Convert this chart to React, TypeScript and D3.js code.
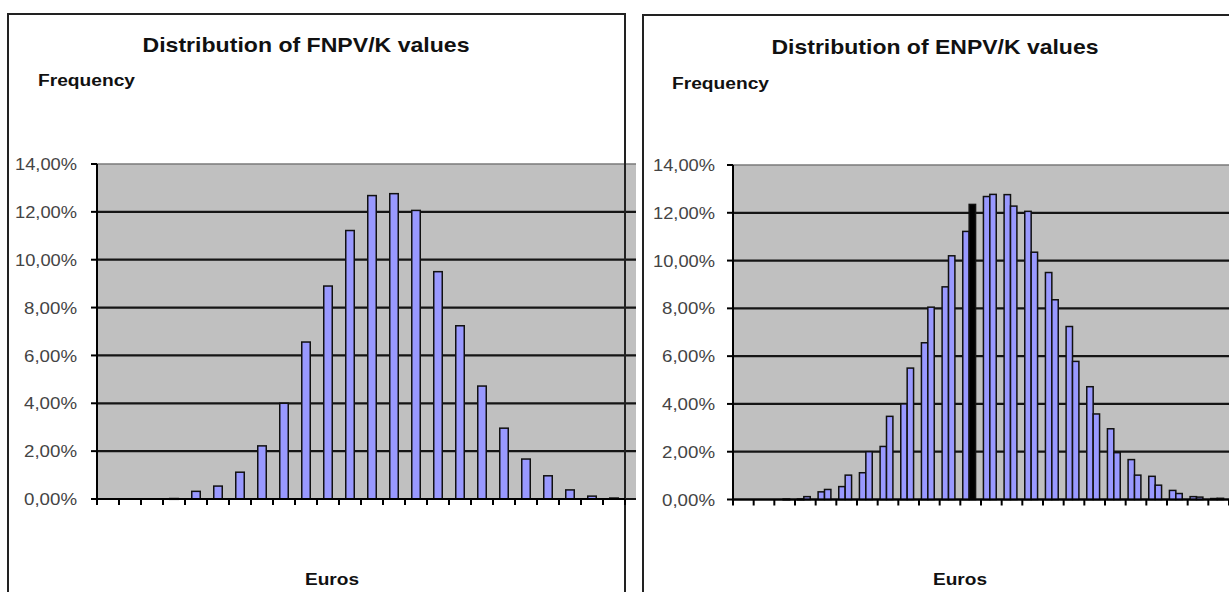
import React from "react";
import * as d3 from "d3";

// ---- data ----
const bins = [1, 2, 3, 4, 5, 6, 7, 8, 9, 10, 11, 12, 13, 14, 15, 16, 17, 18, 19, 20, 21, 22, 23, 24];
const fnpvFreq = [0, 0, 0, 0.02, 0.32, 0.54, 1.12, 2.22, 4.0, 6.56, 8.9, 11.22, 12.68, 12.76, 12.06, 9.5, 7.24, 4.72, 2.96, 1.67, 0.97, 0.38, 0.12, 0.04];
const enpvFreq = [0, 0, 0.02, 0.12, 0.42, 1.02, 2.0, 3.48, 5.5, 8.05, 10.2, 12.35, 12.77, 12.28, 10.35, 8.36, 5.78, 3.58, 1.96, 1.02, 0.6, 0.25, 0.1, 0.05];
const highlightedBin = 12; // bin drawn in black in the ENPV series
const yTicks = [0, 2, 4, 6, 8, 10, 12, 14];
const leftTitle = "Distribution of FNPV/K values";
const rightTitle = "Distribution of ENPV/K values";
const yTitle = "Frequency";
const xTitle = "Euros";

const FONT = "'Liberation Sans', Arial, sans-serif";
const BAR_FILL = "#9999ff";
const fmt = (v: number) => v.toFixed(2).replace(".", ",") + "%";

type Series = { values: number[]; highlight?: number };

type PanelProps = {
  frameX0: number;
  frameX1: number;
  frameY: number;
  plotX0: number;
  plotX1: number;
  grayX1: number;
  yBottom: number;
  yTop: number;
  title: string;
  titleX: number;
  titleY: number;
  freqX: number;
  freqY: number;
  eurosX: number;
  eurosY: number;
  series: Series[];
  barWidth: number;
  pairShift: number;
  labelGap: number;
};

function Panel(p: PanelProps) {
  const x = d3.scaleBand<number>().domain(bins).range([p.plotX0, p.plotX1]).padding(0);
  const y = d3.scaleLinear().domain([0, 14]).range([p.yBottom, p.yTop]);
  const sub = d3
    .scaleBand<number>()
    .domain(p.series.map((_, i) => i))
    .range([0, p.barWidth * p.series.length])
    .padding(0);
  const groupW = p.barWidth * p.series.length;
  const step = x.step();
  const boundaries = d3.range(bins.length + 1).map((i) => p.plotX0 + i * step);

  return (
    <g>
      {/* frame */}
      <rect x={p.frameX0} y={p.frameY} width={p.frameX1 - p.frameX0} height={700} fill="white" stroke="#222" strokeWidth={2} />
      {/* plot area */}
      <rect x={p.plotX0} y={y(14)} width={p.grayX1 - p.plotX0} height={y(0) - y(14)} fill="#c0c0c0" />
      {yTicks.map((t) => (
        <line key={"g" + t} x1={p.plotX0} x2={p.grayX1} y1={y(t)} y2={y(t)} stroke={t === 14 ? "#7a7a7a" : "#151515"} strokeWidth={t === 14 ? 1.5 : 2.2} />
      ))}
      {/* bars */}
      {p.series.map((s, si) =>
        s.values.map((v, i) => {
          const cx = (x(bins[i]) as number) + step / 2;
          const bx = cx - groupW / 2 + p.pairShift + (sub(si) as number);
          const h = y(0) - y(v);
          if (v <= 0) return null;
          const isHi = s.highlight !== undefined && bins[i] === s.highlight;
          return (
            <rect
              key={si + "-" + i}
              x={bx}
              y={y(v)}
              width={sub.bandwidth()}
              height={Math.max(h, 0.8)}
              fill={isHi ? "#000" : BAR_FILL}
              stroke="#111"
              strokeWidth={1.5}
            />
          );
        })
      )}
      {/* frame right border redrawn over gray */}
      <line x1={p.frameX1} x2={p.frameX1} y1={p.frameY} y2={700} stroke="#222" strokeWidth={2} />
      {/* axes */}
      <line x1={p.plotX0} x2={p.plotX0} y1={y(14)} y2={y(0)} stroke="#000" strokeWidth={2} />
      <line x1={p.plotX0} x2={p.plotX1} y1={y(0)} y2={y(0)} stroke="#000" strokeWidth={2} />
      {yTicks.map((t) => (
        <g key={"yt" + t}>
          <line x1={p.plotX0 - 6} x2={p.plotX0} y1={y(t)} y2={y(t)} stroke="#000" strokeWidth={2} />
          <text x={p.plotX0 - p.labelGap} y={y(t)} dy="0.36em" textAnchor="end" fontFamily={FONT} fontSize={17} fill="#444" textLength={t >= 10 ? 62 : 53} lengthAdjust="spacingAndGlyphs">
            {fmt(t)}
          </text>
        </g>
      ))}
      {boundaries.map((bx, i) => (
        <line key={"xt" + i} x1={bx} x2={bx} y1={y(0)} y2={y(0) + 6} stroke="#000" strokeWidth={2} />
      ))}
      {/* titles */}
      <text x={p.titleX} y={p.titleY} textAnchor="middle" fontFamily={FONT} fontWeight="bold" fontSize={21} fill="#111" textLength={327} lengthAdjust="spacingAndGlyphs">
        {p.title}
      </text>
      <text x={p.freqX} y={p.freqY} fontFamily={FONT} fontWeight="bold" fontSize={16} fill="#111" textLength={97} lengthAdjust="spacingAndGlyphs">
        {yTitle}
      </text>
      <text x={p.eurosX} y={p.eurosY} textAnchor="middle" fontFamily={FONT} fontWeight="bold" fontSize={17} fill="#111" textLength={54} lengthAdjust="spacingAndGlyphs">
        {xTitle}
      </text>
    </g>
  );
}

export default function App() {
  return (
    <svg width={1229} height={592} style={{ position: "absolute", left: 0, top: 0, background: "white" }}>
      <Panel
        frameX0={8}
        frameX1={625}
        frameY={14}
        plotX0={97}
        plotX1={625}
        grayX1={636}
        yBottom={499}
        yTop={164}
        title={leftTitle}
        titleX={306}
        titleY={52}
        freqX={38}
        freqY={86}
        eurosX={332}
        eurosY={585}
        series={[{ values: fnpvFreq }]}
        barWidth={8.5}
        pairShift={0}
        labelGap={20}
      />
      <Panel
        frameX0={643}
        frameX1={1240}
        frameY={15}
        plotX0={733}
        plotX1={1229}
        grayX1={1229}
        yBottom={499.5}
        yTop={165}
        title={rightTitle}
        titleX={935}
        titleY={54}
        freqX={672}
        freqY={89}
        eurosX={960}
        eurosY={585}
        series={[{ values: fnpvFreq }, { values: enpvFreq, highlight: highlightedBin }]}
        barWidth={6.4}
        pairShift={-1.5}
        labelGap={18}
      />
    </svg>
  );
}
